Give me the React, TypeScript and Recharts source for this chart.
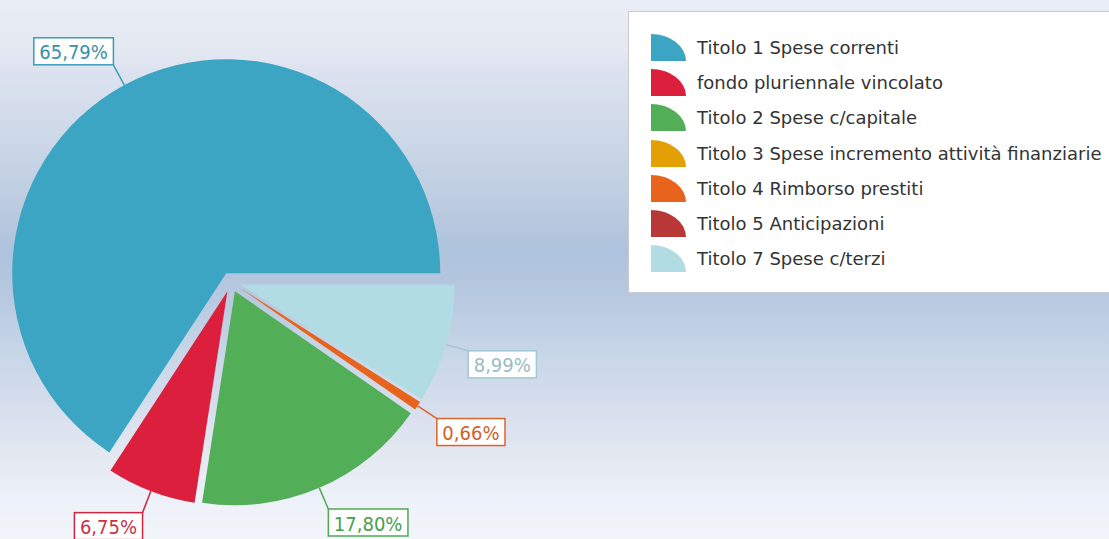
import React from 'react';
import { PieChart, Pie, Cell, Sector, Legend } from 'recharts';

const categories = [
  'Titolo 1 Spese correnti',
  'fondo pluriennale vincolato',
  'Titolo 2 Spese c/capitale',
  'Titolo 3 Spese incremento attività finanziarie',
  'Titolo 4 Rimborso prestiti',
  'Titolo 5 Anticipazioni',
  'Titolo 7 Spese c/terzi',
];
const shares = [65.79, 6.75, 17.8, 0, 0.66, 0, 8.99];

const data = categories.map((name, i) => ({ name, value: shares[i] }));

const COLORS = ['#3ba5c3', '#dc1f3d', '#52ae57', '#e2a004', '#e8641c', '#b83838', '#b2dce4'];
const LINE_COLORS = ['#3a9db8', '#d2243f', '#50a855', '#d99a04', '#e0642a', '#b03636', '#a3c8d0'];
const TEXT_COLORS = ['#3a90a9', '#c9304a', '#4a9d4f', '#c98e00', '#d2612a', '#a23535', '#9bbcc4'];

const FONT = '"DejaVu Sans Condensed", "DejaVu Sans", sans-serif';
const LEGEND_FONT = '"DejaVu Sans", sans-serif';
const EXPLODE = 10;
const LINE_LEN = 23;
const LABEL_SIZE = 20;

let ctx: CanvasRenderingContext2D | null = null;
function textWidth(s: string, font: string) {
  if (!ctx) ctx = document.createElement('canvas').getContext('2d');
  if (!ctx) return s.length * 11;
  ctx.font = font;
  return ctx.measureText(s).width;
}

const fmt = (v: number) => v.toFixed(2).replace('.', ',') + '%';

// exploded slice + boxed label, drawn from the sector geometry recharts computes
const renderSlice = (props: any) => {
  const { cx, cy, midAngle, outerRadius, startAngle, endAngle, index, value } = props;
  if (!value) return null;
  const rad = (-midAngle * Math.PI) / 180;
  const cos = Math.cos(rad);
  const sin = Math.sin(rad);
  const ox = cx + EXPLODE * cos;
  const oy = cy + EXPLODE * sin;
  const sx = ox + outerRadius * cos;
  const sy = oy + outerRadius * sin;
  const ex = ox + (outerRadius + LINE_LEN) * cos;
  const ey = oy + (outerRadius + LINE_LEN) * sin;
  const text = fmt(value);
  const w = textWidth(text, `${LABEL_SIZE}px ${FONT}`) + 11;
  const h = 27;
  const bx = cos >= 0 ? ex : ex - w;
  const by = sin >= 0 ? ey : ey - h;
  return (
    <g key={`slice-${index}`}>
      <Sector
        cx={ox}
        cy={oy}
        innerRadius={0}
        outerRadius={outerRadius}
        startAngle={startAngle}
        endAngle={endAngle}
        fill={COLORS[index]}
        stroke="none"
      />
      <path d={`M${sx},${sy}L${ex},${ey}`} stroke={LINE_COLORS[index]} strokeWidth={1.5} fill="none" />
      <rect x={bx} y={by} width={w} height={h} fill="#ffffff" stroke={LINE_COLORS[index]} strokeWidth={1.5} />
      <text
        x={bx + w / 2}
        y={by + h / 2 + 1}
        textAnchor="middle"
        dominantBaseline="central"
        fontFamily={FONT}
        fontSize={LABEL_SIZE}
        fill={TEXT_COLORS[index]}
      >
        {text}
      </text>
    </g>
  );
};

const LegendBox = () => (
  <div
    style={{
      width: 500,
      height: 282,
      boxSizing: 'border-box',
      background: '#ffffff',
      border: '1px solid #c9cbcf',
      padding: '18px 0 0 22px',
      fontFamily: LEGEND_FONT,
      fontSize: 18,
      color: '#333333',
    }}
  >
    {categories.map((name, i) => (
      <div key={name} style={{ display: 'flex', alignItems: 'center', height: 35.2 }}>
        <svg width={35} height={27} style={{ marginRight: 11, flex: 'none' }}>
          <path d="M0,27 L0,0 A35,27 0 0 1 35,27 Z" fill={COLORS[i]} />
        </svg>
        <span style={{ whiteSpace: 'nowrap' }}>{name}</span>
      </div>
    ))}
  </div>
);

export default function App() {
  return (
    <div
      style={{
        position: 'absolute',
        left: 0,
        top: 0,
        width: 1109,
        height: 539,
        overflow: 'hidden',
        background:
          'linear-gradient(to bottom, #e9eef6 0%, #e3e8f1 9%, #dce1ef 14%, #cdd9e8 25%, #bccbe0 38%, #adc2dc 47%, #b9cae0 56%, #c8d7e8 66%, #d6ddec 75%, #e3e8f1 84%, #edf1f9 93%, #f2f5f8 100%)',
      }}
    >
      <PieChart width={1109} height={539} margin={{ top: 0, right: 0, bottom: 0, left: 0 }}>
        <Pie
          data={data}
          dataKey="value"
          nameKey="name"
          cx={231}
          cy={282}
          outerRadius={214}
          startAngle={0}
          endAngle={360}
          stroke="none"
          label={renderSlice}
          labelLine={false}
          isAnimationActive={false}
        >
          {data.map((_, i) => (
            <Cell key={`cell-${i}`} fill="none" stroke="none" />
          ))}
        </Pie>
        <Legend
          content={() => <LegendBox />}
          wrapperStyle={{ position: 'absolute', left: 628, top: 11, width: 500 }}
        />
      </PieChart>
    </div>
  );
}
